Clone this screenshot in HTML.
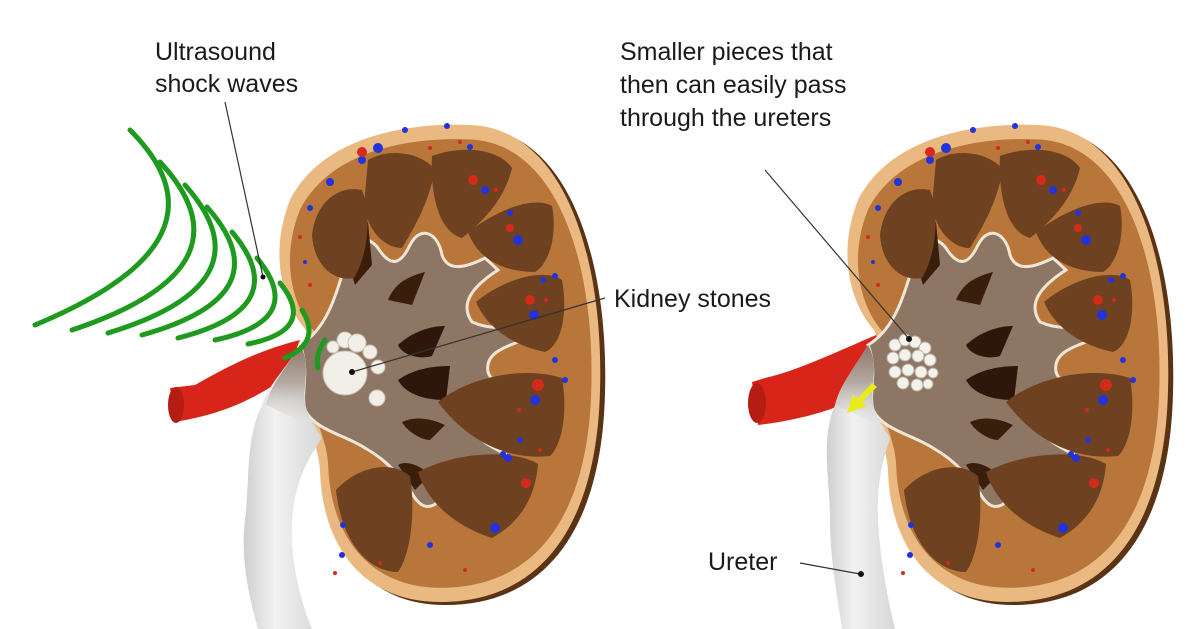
<!DOCTYPE html>
<html><head><style>
html,body{margin:0;padding:0;background:#fff;}
svg{display:block;}
text{font-family:"Liberation Sans",sans-serif;font-size:25px;fill:#1a1a1a;}
</style></head><body>
<svg width="1200" height="629" viewBox="0 0 1200 629" xmlns="http://www.w3.org/2000/svg">
<defs>
<linearGradient id="ur" x1="0" y1="0" x2="1" y2="0">
<stop offset="0" stop-color="#cfcfcf"/><stop offset="0.4" stop-color="#f2f2f2"/><stop offset="1" stop-color="#d6d6d6"/>
</linearGradient>
<linearGradient id="urv" x1="0" y1="0" x2="0" y2="1">
<stop offset="0" stop-color="#8e7665"/><stop offset="0.45" stop-color="#b5aba3"/><stop offset="1" stop-color="#e6e6e6" stop-opacity="0"/>
</linearGradient>
<g id="kid">
<path d="M470,125 C565,128 604,260 600,390 C597,520 545,602 440,602 C362,602 322,545 320,470 C318,440 302,420 306,395 C310,370 316,350 306,330 C280,300 270,250 290,200 C320,140 400,122 470,125Z" fill="#5a3315" transform="translate(5,3)"/>
<path d="M470,125 C565,128 604,260 600,390 C597,520 545,602 440,602 C362,602 322,545 320,470 C318,440 302,420 306,395 C310,370 316,350 306,330 C280,300 270,250 290,200 C320,140 400,122 470,125Z" fill="#eab981"/>
<path d="M470,125 C565,128 604,260 600,390 C597,520 545,602 440,602 C362,602 322,545 320,470 C318,440 302,420 306,395 C310,370 316,350 306,330 C280,300 270,250 290,200 C320,140 400,122 470,125Z" fill="#b9763a" transform="translate(455,365) scale(0.94) translate(-455,-365)"/>
<path d="M300,345 C325,330 335,300 345,265 C352,240 365,232 378,248 C392,270 402,262 410,245 C420,225 438,232 442,255 C448,272 465,268 485,258 L498,270 C470,288 460,305 472,322 C490,330 510,328 522,325 L524,340 C500,348 485,355 488,372 C492,385 510,386 522,384 L520,398 C495,405 475,412 474,430 C482,445 500,450 508,456 L498,468 C472,462 455,472 445,490 C438,508 425,512 415,498 C405,482 390,462 365,448 C345,435 315,430 305,410 C300,390 310,370 300,345Z" fill="#8e7665" stroke="#f1e6d6" stroke-width="3"/>
<path d="M355,285 C345,255 350,230 368,222 L372,265Z" fill="#3a1e0c"/>
<path d="M388,300 C395,282 410,276 425,272 L412,305Z" fill="#3a1e0c"/>
<path d="M398,345 C412,332 430,326 445,326 L432,356 C420,360 402,355 398,345Z" fill="#2e170a"/>
<path d="M398,380 C412,370 430,366 450,366 L446,400 C426,400 406,395 398,380Z" fill="#2e170a"/>
<path d="M402,422 C415,416 430,418 445,425 L430,440 C420,440 406,430 402,422Z" fill="#3a1e0c"/>
<path d="M398,465 C406,460 420,465 430,475 L415,490Z" fill="#3a1e0c"/>
<path d="M368,160 C392,146 425,155 435,170 C428,205 414,228 402,248 C385,248 368,232 364,205Z" fill="#6e4120"/>
<path d="M312,235 C316,200 340,185 362,190 C372,215 368,255 354,278 C334,282 314,266 312,235Z" fill="#6e4120"/>
<path d="M432,156 C465,144 500,150 512,168 C505,198 485,220 462,238 C440,232 430,198 432,156Z" fill="#6e4120"/>
<path d="M468,232 C500,208 535,196 552,206 C558,236 548,265 535,272 C505,272 478,260 468,232Z" fill="#6e4120"/>
<path d="M476,302 C505,278 545,268 562,280 C568,312 562,345 545,352 C516,346 488,330 476,302Z" fill="#6e4120"/>
<path d="M438,402 C470,376 525,366 562,378 C568,412 562,445 550,456 C512,460 470,445 438,402Z" fill="#6e4120"/>
<path d="M418,472 C460,450 515,450 538,464 C535,503 515,525 492,538 C460,528 428,505 418,472Z" fill="#6e4120"/>
<path d="M336,490 C358,466 392,460 410,476 C416,515 410,555 398,572 C370,572 342,545 336,490Z" fill="#6e4120"/>
<g fill="#2233dd">
<circle cx="362" cy="160" r="4"/><circle cx="378" cy="148" r="5"/><circle cx="405" cy="130" r="3"/><circle cx="330" cy="182" r="4"/><circle cx="470" cy="147" r="3"/><circle cx="485" cy="190" r="4"/><circle cx="518" cy="240" r="5"/><circle cx="534" cy="315" r="5"/><circle cx="543" cy="280" r="3"/><circle cx="555" cy="276" r="3"/><circle cx="535" cy="400" r="5"/><circle cx="555" cy="360" r="3"/><circle cx="520" cy="440" r="3"/><circle cx="508" cy="458" r="4"/><circle cx="495" cy="528" r="5"/><circle cx="430" cy="545" r="3"/><circle cx="343" cy="525" r="3"/><circle cx="342" cy="555" r="3"/><circle cx="447" cy="126" r="3"/><circle cx="305" cy="262" r="2"/><circle cx="310" cy="208" r="3"/><circle cx="565" cy="380" r="3"/><circle cx="503" cy="454" r="3"/><circle cx="510" cy="213" r="3"/>
</g>
<g fill="#d42a1a">
<circle cx="362" cy="152" r="5"/><circle cx="473" cy="180" r="5"/><circle cx="510" cy="228" r="4"/><circle cx="530" cy="300" r="5"/><circle cx="538" cy="385" r="6"/><circle cx="526" cy="483" r="5"/><circle cx="300" cy="237" r="2"/><circle cx="310" cy="285" r="2"/><circle cx="540" cy="450" r="2"/><circle cx="546" cy="300" r="2"/><circle cx="430" cy="148" r="2"/><circle cx="460" cy="142" r="2"/><circle cx="335" cy="573" r="2"/><circle cx="465" cy="570" r="2"/><circle cx="380" cy="563" r="2"/><circle cx="519" cy="410" r="2"/><circle cx="496" cy="190" r="2"/>
</g>
</g>
</defs>

<!-- LEFT -->
<path d="M300,340 C260,350 230,365 195,385 L170,388 L175,422 C215,415 245,405 285,378 Z" fill="#d8251a"/>
<ellipse cx="176" cy="405" rx="8" ry="18" fill="#b51c12"/>
<use href="#kid"/>
<path d="M300,345 C285,370 268,385 262,405 C245,440 250,480 245,520 C240,560 250,600 258,629 L312,629 C300,600 290,560 292,520 C295,480 310,455 322,438 C315,425 305,415 305,400 C305,380 310,365 300,345 Z" fill="url(#ur)"/>
<path d="M300,345 C285,370 270,385 266,405 L320,430 C305,415 303,400 305,385 C306,370 308,360 300,345Z" fill="url(#urv)"/>
<g fill="#f2efe8" stroke="#c9c2b5" stroke-width="1">
<circle cx="345" cy="373" r="22"/><circle cx="345" cy="340" r="8"/><circle cx="357" cy="343" r="9"/><circle cx="370" cy="352" r="7"/><circle cx="378" cy="367" r="7"/><circle cx="377" cy="398" r="8"/><circle cx="333" cy="347" r="6"/>
</g>
<g fill="none" stroke="#1e9a1e" stroke-width="5" stroke-linecap="round">
<path d="M130,130 Q240,240 35,325"/>
<path d="M160,162 Q258,268 72,330"/>
<path d="M185,185 Q272,283 108,333"/>
<path d="M207,207 Q285,295 142,335"/>
<path d="M232,232 Q296,308 178,338"/>
<path d="M257,258 Q308,320 215,340"/>
<path d="M280,283 Q318,330 248,344"/>
<path d="M302,310 Q322,342 285,358"/>
<path d="M325,340 Q315,355 318,368"/>
</g>
<line x1="225" y1="102" x2="263" y2="277" stroke="#333" stroke-width="1.2"/>
<circle cx="263" cy="277" r="2.5" fill="#111"/>
<line x1="352" y1="372" x2="605" y2="298" stroke="#333" stroke-width="1.2"/>
<circle cx="352" cy="372" r="3" fill="#111"/>
<text x="155" y="60">Ultrasound</text>
<text x="155" y="92">shock waves</text>
<text x="614" y="307">Kidney stones</text>

<!-- RIGHT -->
<path d="M888,330 C840,350 800,370 765,378 L752,382 L758,425 C800,420 840,410 882,385 Z" fill="#d8251a"/>
<ellipse cx="757" cy="403" rx="9" ry="20" fill="#b51c12"/>
<use href="#kid" transform="translate(568,0)"/>
<path d="M868,345 C853,370 840,385 835,405 C820,440 830,480 830,520 C830,560 838,600 842,629 L895,629 C888,600 880,560 878,520 C876,480 885,455 890,438 C883,425 873,415 873,400 C873,380 878,365 868,345 Z" fill="url(#ur)"/>
<path d="M868,345 C853,370 840,385 836,405 L888,430 C873,415 871,400 873,385 C874,370 876,360 868,345Z" fill="url(#urv)"/>
<g fill="#f4f2ec" stroke="#b8b0a0" stroke-width="1">
<circle cx="895" cy="345" r="6"/><circle cx="905" cy="340" r="6"/><circle cx="915" cy="342" r="6"/><circle cx="925" cy="348" r="6"/><circle cx="893" cy="358" r="6"/><circle cx="905" cy="355" r="6"/><circle cx="918" cy="356" r="6"/><circle cx="930" cy="360" r="6"/><circle cx="895" cy="372" r="6"/><circle cx="908" cy="370" r="6"/><circle cx="921" cy="372" r="6"/><circle cx="933" cy="373" r="5"/><circle cx="903" cy="383" r="6"/><circle cx="917" cy="385" r="6"/><circle cx="928" cy="384" r="5"/>
</g>
<path d="M877,387 L862,402 L867,406 L847,413 L853,394 L857,399 L872,383 Z" fill="#e8ec1a"/>
<line x1="765" y1="170" x2="910" y2="340" stroke="#333" stroke-width="1.2"/>
<circle cx="909" cy="339" r="3" fill="#111"/>
<line x1="800" y1="563" x2="860" y2="574" stroke="#333" stroke-width="1.2"/>
<circle cx="861" cy="574" r="3" fill="#111"/>
<text x="620" y="60">Smaller pieces that</text>
<text x="620" y="93">then can easily pass</text>
<text x="620" y="126">through the ureters</text>
<text x="708" y="570">Ureter</text>
</svg>
</body></html>
